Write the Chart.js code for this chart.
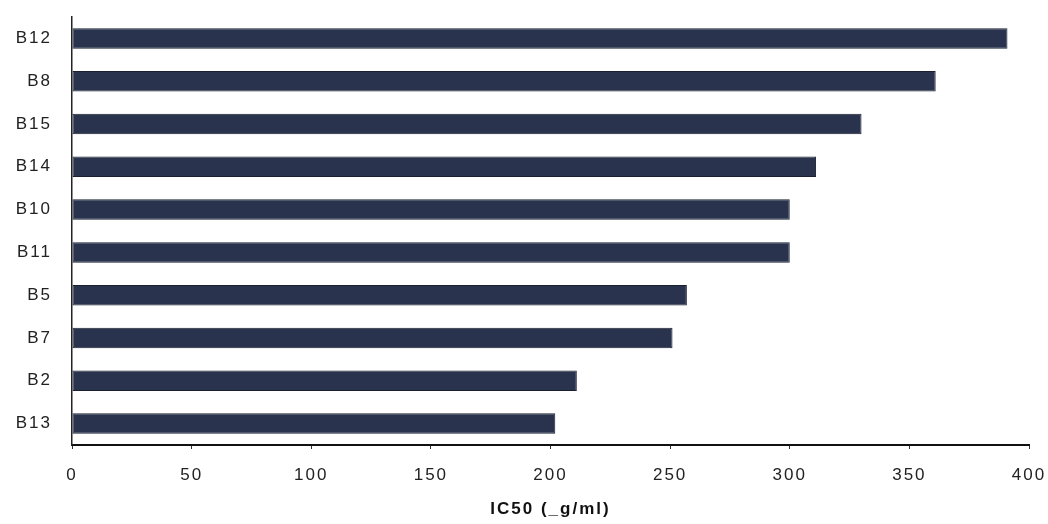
<!DOCTYPE html>
<html>
<head>
<meta charset="utf-8">
<script src="https://cdn.jsdelivr.net/npm/chart.js@4/dist/chart.umd.min.js"></script>
<style>
    html, body { margin: 0; padding: 0; background: #fff; }
    #wrap { width: 1048px; height: 524px; }
</style>
</head>
<body>
<div id="wrap"><canvas id="chart"></canvas></div>
<script>
// values, top to bottom
const compounds = ['B12', 'B8', 'B15', 'B14', 'B10', 'B11', 'B5', 'B7', 'B2', 'B13'];
const ic50Values = [391, 361, 330, 311, 300, 300, 257, 251, 211, 202];
const xTicks = [0, 50, 100, 150, 200, 250, 300, 350, 400];

const labelFont = { family: '"Liberation Sans", Arial, sans-serif', size: 17 };
const inkColor = '#222';

// the scanned original has wide, loosely spaced lettering
const spacedText = {
    id: 'spacedText',
    beforeUpdate(chart) { chart.ctx.letterSpacing = '2px'; },
    beforeDraw(chart) { chart.ctx.letterSpacing = '2px'; }
};

new Chart(document.getElementById('chart'), {
    type: 'bar',
    data: {
        labels: compounds,
        datasets: [{
            label: 'IC50',
            data: ic50Values,
            backgroundColor: '#29334d',
            borderColor: '#1a2030',
            borderWidth: 1,
            borderSkipped: false,
            categoryPercentage: 0.48,
            barPercentage: 1
        }]
    },
    options: {
        indexAxis: 'y',
        responsive: true,
        maintainAspectRatio: false,
        animation: false,
        layout: { padding: { top: 17, right: 19, left: 0, bottom: 0 } },
        plugins: {
            legend: { display: false },
            tooltip: { enabled: false }
        },
        scales: {
            x: {
                min: 0,
                max: 400,
                afterBuildTicks: (scale) => {
                    scale.ticks = xTicks.map(v => ({ value: v }));
                },
                afterFit: (scale) => {
                    scale.height = 79;
                    scale.paddingLeft = 0;
                    scale.paddingRight = 0;
                },
                grid: { drawOnChartArea: false, drawTicks: true, tickLength: 4, color: '#333', lineWidth: 1 },
                border: { color: '#111', width: 2 },
                ticks: { font: labelFont, color: inkColor, padding: 16, maxRotation: 0 },
                title: {
                    display: true,
                    text: 'IC50 (_g/ml)',
                    font: { family: labelFont.family, size: 17, weight: 'bold' },
                    color: '#111',
                    padding: { top: 0, bottom: 4 }
                }
            },
            y: {
                afterFit: (scale) => {
                    scale.width = 72;
                    scale.paddingTop = 0;
                    scale.paddingBottom = 0;
                },
                grid: { display: false, drawTicks: false },
                border: { color: '#222', width: 1.5 },
                ticks: { font: labelFont, color: inkColor, padding: 20 }
            }
        }
    },
    plugins: [spacedText]
});
</script>
</body>
</html>
